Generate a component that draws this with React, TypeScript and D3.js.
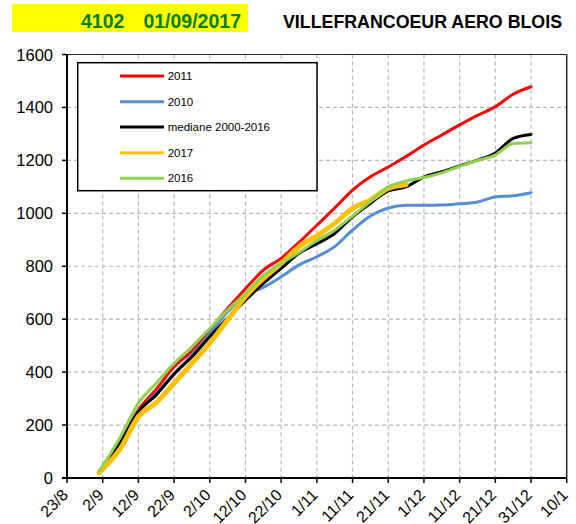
import React from 'react';
import * as d3 from 'd3';

// dates sampled every ~5 days (day/month, 2017)
const sampleDates = [
  '2017-09-01', '2017-09-07', '2017-09-12', '2017-09-17', '2017-09-22', '2017-09-27',
  '2017-10-02', '2017-10-07', '2017-10-12', '2017-10-17', '2017-10-22', '2017-10-27',
  '2017-11-01', '2017-11-06', '2017-11-11', '2017-11-16', '2017-11-21', '2017-11-26',
  '2017-12-01', '2017-12-06', '2017-12-11', '2017-12-16', '2017-12-21', '2017-12-26',
  '2017-12-31',
];

const values2011 = [25, 137, 257, 335, 420, 480, 560, 640, 715, 785, 830, 890, 955, 1020, 1088, 1138, 1175, 1215, 1258, 1296, 1334, 1370, 1403, 1450, 1478];
const values2010 = [25, 137, 250, 320, 395, 465, 545, 628, 691, 720, 760, 805, 836, 874, 937, 990, 1020, 1030, 1030, 1031, 1036, 1043, 1062, 1066, 1078];
const valuesMedian = [22, 137, 250, 314, 392, 458, 534, 603, 672, 735, 792, 849, 885, 924, 987, 1038, 1085, 1100, 1137, 1157, 1179, 1201, 1228, 1283, 1298];
const values2017 = [20, 112, 232, 285, 358, 433, 509, 597, 685, 754, 811, 874, 915, 962, 1019, 1050, 1094, 1108];
const values2016 = [25, 156, 283, 358, 433, 496, 565, 635, 698, 765, 810, 852, 897, 937, 990, 1044, 1100, 1122, 1135, 1153, 1177, 1200, 1220, 1264, 1267];

const xTickLabels = ['23/8', '2/9', '12/9', '22/9', '2/10', '12/10', '22/10', '1/11', '11/11', '21/11', '1/12', '11/12', '21/12', '31/12', '10/1'];
const yTicks = [0, 200, 400, 600, 800, 1000, 1200, 1400, 1600];

const series = [
  { name: '2011', values: values2011, color: '#ff0000', width: 3 },
  { name: '2010', values: values2010, color: '#558ed5', width: 3 },
  { name: 'mediane 2000-2016', values: valuesMedian, color: '#000000', width: 3 },
  { name: '2017', values: values2017, color: '#ffc000', width: 5 },
  { name: '2016', values: values2016, color: '#92d050', width: 3 },
];

const FONT = '"Liberation Sans", Arial, sans-serif';

export default function App() {
  const left = 67;
  const right = 566.7;
  const top = 54.5;
  const bottom = 478;

  const start = new Date(2017, 7, 23);
  const end = new Date(2018, 0, 10);
  const x = d3.scaleTime().domain([start, end]).range([left, right]);
  const y = d3.scaleLinear().domain([0, 1600]).range([bottom, top]);

  const xTicks = xTickLabels.map((_, i) => d3.timeDay.offset(start, i * 10));
  const parse = d3.timeParse('%Y-%m-%d');
  const dates = sampleDates.map((d) => parse(d) as Date);

  const line = d3
    .line<number>()
    .x((_, i) => x(dates[i]))
    .y((d) => y(d))
    .curve(d3.curveMonotoneX);

  const legendRows = [76, 101.7, 127, 152.7, 178.3];

  return (
    <svg
      width={576}
      height={524}
      style={{ position: 'absolute', left: 0, top: 0, background: '#fff', fontFamily: FONT }}
    >
      {/* header */}
      <rect x={12} y={4} width={236} height={28} fill="#ffff00" />
      <text x={81} y={28} fontSize={19.5} fontWeight="bold" fill="#008000">4102</text>
      <text x={143.4} y={28} fontSize={19.5} fontWeight="bold" fill="#008000">01/09/2017</text>
      <text x={283} y={28} fontSize={19} fontWeight="bold" fill="#000" textLength={279} lengthAdjust="spacingAndGlyphs">
        VILLEFRANCOEUR AERO BLOIS
      </text>

      {/* grid */}
      {yTicks.slice(1, -1).map((t) => (
        <line key={'gy' + t} x1={left} x2={right} y1={y(t)} y2={y(t)} stroke="#b8b8b8" strokeWidth={1.2} strokeDasharray="4,3" />
      ))}
      {xTicks.slice(1, -1).map((t, i) => (
        <line key={'gx' + i} x1={x(t)} x2={x(t)} y1={top} y2={bottom} stroke="#b8b8b8" strokeWidth={1.2} strokeDasharray="4,3" />
      ))}

      {/* plot border */}
      <line x1={left} x2={right} y1={top} y2={top} stroke="#222" strokeWidth={1.2} />
      <line x1={right} x2={right} y1={top} y2={bottom} stroke="#222" strokeWidth={1.5} />

      {/* series */}
      {series.map((s) => (
        <path
          key={s.name}
          d={line(s.values) || ''}
          fill="none"
          stroke={s.color}
          strokeWidth={s.width}
          strokeLinejoin="round"
          strokeLinecap="round"
        />
      ))}

      {/* axes */}
      <line x1={left} x2={left} y1={top} y2={bottom} stroke="#000" strokeWidth={2} />
      <line x1={left - 5} x2={right} y1={bottom} y2={bottom} stroke="#000" strokeWidth={2} />
      {yTicks.map((t) => (
        <g key={'yt' + t}>
          <line x1={left - 5} x2={left} y1={y(t)} y2={y(t)} stroke="#000" strokeWidth={1.5} />
          <text x={53} y={y(t)} fontSize={16.5} textAnchor="end" dominantBaseline="central" fill="#000">
            {t}
          </text>
        </g>
      ))}
      {xTicks.map((t, i) => (
        <g key={'xt' + i}>
          <line x1={x(t)} x2={x(t)} y1={bottom} y2={bottom + 5} stroke="#000" strokeWidth={1.5} />
          <text
            transform={`translate(${x(t) + 2},${bottom + 18}) rotate(-45)`}
            fontSize={16}
            textAnchor="end"
            fill="#000"
          >
            {xTickLabels[i]}
          </text>
        </g>
      ))}

      {/* legend */}
      <rect x={77.7} y={62.7} width={239.3} height={128} fill="#fff" stroke="#000" strokeWidth={1.5} />
      {series.map((s, i) => (
        <g key={'lg' + s.name}>
          <line x1={120} x2={164} y1={legendRows[i]} y2={legendRows[i]} stroke={s.color} strokeWidth={3} />
          <text x={167.7} y={legendRows[i]} fontSize={11.5} dominantBaseline="central" fill="#000">
            {s.name}
          </text>
        </g>
      ))}
    </svg>
  );
}
